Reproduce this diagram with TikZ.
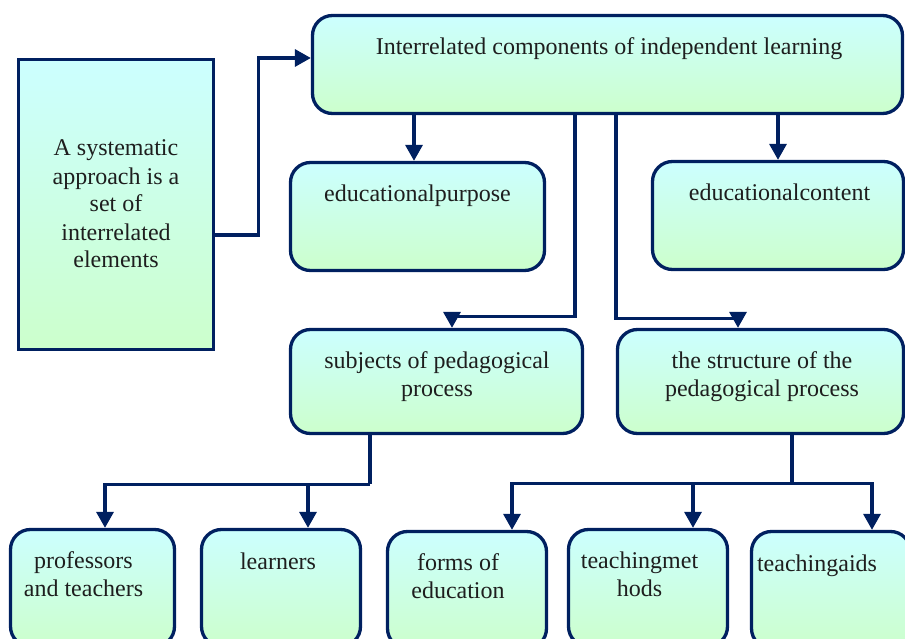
\documentclass[tikz,border=0pt]{standalone}
\usepackage{fontspec}
\setmainfont{Liberation Serif}
\usepackage{tikz}
\usetikzlibrary{arrows.meta,shapes}
\definecolor{navy}{RGB}{0,32,96}
\definecolor{topcyan}{RGB}{204,255,255}
\definecolor{botgreen}{RGB}{204,255,204}
\definecolor{ink}{RGB}{30,30,30}
\tikzstyle{box}=[rectangle,draw=navy,line width=3.3pt,top color=topcyan,bottom color=botgreen,inner sep=0pt]
\tikzstyle{rbox}=[box,rounded corners=20pt]
\tikzstyle{txt}=[anchor=base,align=center,inner sep=0pt,text=ink,font=\fontsize{24}{28}\selectfont]
\tikzstyle{link}=[draw=navy,line width=3.3pt]
\tikzstyle{edge}=[link,-{Triangle[length=16pt,width=17pt]}]

\begin{document}
\begin{tikzpicture}[x=1pt,y=-1pt]
      \useasboundingbox (0,0) rectangle (905,639);
      \clip (0,0) rectangle (905,639);
      % boxes
      \node[box,minimum width=195,minimum height=290] (sys) at (116,204.5) {};
      \node[rbox,minimum width=590,minimum height=98] (comp) at (607.5,64.5) {};
      \node[rbox,minimum width=254,minimum height=108] (purpose) at (417.5,216.5) {};
      \node[rbox,minimum width=251,minimum height=108] (content) at (778,215.5) {};
      \node[rbox,minimum width=292,minimum height=104] (subj) at (436.5,381.5) {};
      \node[rbox,minimum width=286,minimum height=104] (struct) at (760.5,381.5) {};
      \node[rbox,minimum width=164,minimum height=117] (prof) at (92.5,588) {};
      \node[rbox,minimum width=159,minimum height=117] (learn) at (281,588) {};
      \node[rbox,minimum width=159,minimum height=117] (forms) at (467,590) {};
      \node[rbox,minimum width=159,minimum height=117] (methods) at (648,588) {};
      \node[rbox,minimum width=159,minimum height=117] (aids) at (831,590) {};
      % texts (base = last line)
      \node[txt] (sysT) at (116,268) {A systematic\\approach is a\\set of\\interrelated\\elements};
      \node[txt] (compT) at (609,55) {Interrelated components of independent learning};
      \node[txt] (purposeT) at (417.5,202) {educationalpurpose};
      \node[txt] (contentT) at (779.5,201) {educationalcontent};
      \node[txt] (subjT) at (437,396) {subjects of pedagogical\\process};
      \node[txt] (structT) at (762,396) {the structure of the\\pedagogical process};
      \node[txt] (profT) at (83.5,596) {professors\\and teachers};
      \node[txt] (learnT) at (278,569) {learners};
      \node[txt] (formsT) at (458,598) {forms of\\education};
      \node[txt] (methodsT) at (639.5,596) {teachingmet\\hods};
      \node[txt] (aidsT) at (817,571) {teachingaids};
      % connectors
      \draw[edge] ([yshift=-30.5pt]sys.east) -- ++(43,0) |- ([yshift=6.5pt]comp.west);
      \draw[edge] ([xshift=-3.5pt]comp.south -| purpose.north) -- ([xshift=-3.5pt]purpose.north);
      \draw[edge] (comp.south -| content.north) -- (content.north);
      \draw[edge] ([xshift=-32.5pt]comp.south) -- ++(0,201) -| ([xshift=15.5pt]subj.north);
      \draw[edge] ([xshift=8.5pt]comp.south) -- ++(0,203) -| ([xshift=-22.5pt]struct.north);
      \draw[link] ([xshift=-66.5pt]subj.south) -- ++(0,49) coordinate (sj);
      \draw[edge] (sj) -| ([xshift=12.5pt]prof.north);
      \draw[edge] ([xshift=27pt]learn.north |- sj) -- ([xshift=27pt]learn.north);
      \draw[link] ([xshift=31.5pt]struct.south) -- ++(0,48) coordinate (st);
      \draw[edge] (st) -| ([xshift=45pt]forms.north);
      \draw[edge] (st) -| ([xshift=41pt]aids.north);
      \draw[edge] ([xshift=45pt]methods.north |- st) -- ([xshift=45pt]methods.north);
    \end{tikzpicture}
\end{document}
